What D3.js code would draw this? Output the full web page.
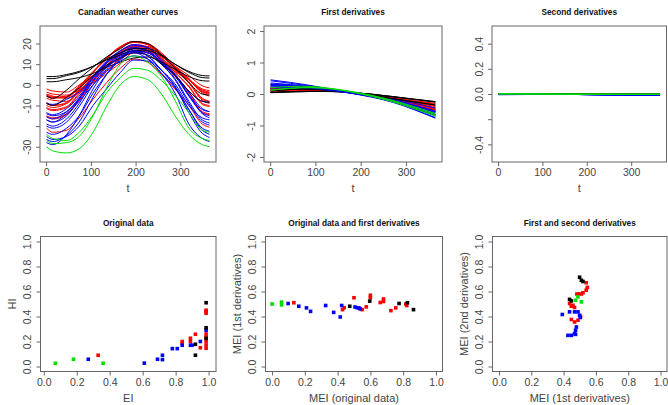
<!DOCTYPE html>
<html>
<head>
<meta charset="utf-8">
<title>Canadian weather depth measures</title>
<script src="https://d3js.org/d3.v7.min.js"></script>
<style>
    body { margin: 0; background: #fff; }
    text { font-family: "Liberation Sans", Arial, sans-serif; }
    .title { font-weight: bold; font-size: 8.3px; fill: #111; }
    .tick text { font-size: 10.5px; fill: #444; }
    .tick line { stroke: #666; }
    .axlab { font-size: 11px; fill: #444; }
    .box { fill: none; stroke: #666; stroke-width: 1px; }
</style>
</head>
<body>
<svg id="chart" width="668" height="405"></svg>
<script>
// station order of the Canadian weather data set, with region of each
const stations = ["St. Johns", "Halifax", "Sydney", "Yarmouth", "Charlottvl", "Fredericton",
    "Scheffervll", "Arvida", "Bagottville", "Quebec", "Sherbrooke", "Montreal", "Ottawa",
    "Toronto", "London", "Thunder Bay", "Winnipeg", "The Pas", "Churchill", "Regina",
    "Pr. Albert", "Uranium Cty", "Edmonton", "Calgary", "Kamloops", "Vancouver", "Victoria",
    "Pr. George", "Pr. Rupert", "Whitehorse", "Dawson", "Yellowknife", "Iqaluit", "Inuvik", "Resolute"];
const regions = ["Atlantic", "Atlantic", "Atlantic", "Atlantic", "Atlantic", "Atlantic",
    "Atlantic", "Atlantic", "Atlantic", "Atlantic", "Atlantic", "Atlantic", "Atlantic",
    "Atlantic", "Atlantic", "Continental", "Continental", "Continental", "Continental", "Continental",
    "Continental", "Continental", "Continental", "Continental", "Pacific", "Pacific", "Pacific",
    "Pacific", "Pacific", "Continental", "Continental", "Continental", "Arctic", "Arctic", "Arctic"];
const regionColors = { Atlantic: "#ff0000", Continental: "#0000ff", Pacific: "#000000", Arctic: "#00e000" };

// temperature curves (deg C) read at these days
const tempDays = [1, 15, 46, 74, 105, 135, 166, 196, 227, 258, 288, 319, 349, 365];
const temps = [
    [-3.5, -4.5, -5, -2.5, 1, 5.5, 10.5, 15.5, 15.5, 11.5, 6.5, 2.5, -2, -2.8],
    [-5, -6, -6, -1.5, 4, 9.5, 14.5, 18.5, 18.5, 14, 8.5, 3, -3, -4],
    [-4.5, -5.5, -6.5, -3, 1.5, 7, 12.5, 17.5, 17.5, 13, 7.5, 2.5, -2.5, -3.5],
    [-2, -3, -3.5, 0, 4.5, 9, 12.5, 16, 16.5, 13.5, 9, 4.5, -0.5, -1.5],
    [-6.5, -7.5, -8, -3, 2.5, 9, 15, 19, 18.5, 14, 8, 2.5, -4, -5.5],
    [-8.5, -10, -9, -3, 4, 11, 16.5, 19.5, 18.5, 13, 7, 1, -7, -8],
    [-21, -23, -22, -16, -7, 1, 8, 12.5, 11, 5, -2, -10, -19, -20.5],
    [-15, -16, -14, -7, 2, 9.5, 15.5, 18, 16.5, 11, 4.5, -3.5, -13, -14],
    [-15.5, -16.5, -14.5, -7.5, 1.5, 9, 15, 17.5, 16, 10.5, 4, -4, -13.5, -14.5],
    [-11.5, -12.5, -11, -4.5, 3, 10.5, 16, 19, 17.5, 12.5, 6, -1, -9.5, -10.5],
    [-11, -12, -10.5, -4, 3.5, 10.5, 15.5, 18.5, 17, 12, 6, -0.5, -9, -10],
    [-9, -10, -8.5, -2, 6, 13, 18.5, 21, 19.5, 14.5, 8, 1.5, -6.5, -8],
    [-10, -11, -9, -2.5, 6, 13, 18.5, 21, 19.5, 14.5, 8, 1, -7.5, -9],
    [-5, -6, -5.5, -0.5, 6.5, 13, 18, 21, 20, 15.5, 9, 3, -3, -4],
    [-5.5, -6.5, -6, -1, 6, 12.5, 18, 20.5, 19.5, 15, 8.5, 2.5, -3.5, -4.5],
    [-14, -15, -13, -6.5, 2, 8.5, 13.5, 17.5, 16.5, 11, 5, -3.5, -11.5, -13],
    [-17, -18, -15, -7, 3.5, 11, 16.5, 19.5, 18, 12, 5, -5, -14, -16],
    [-20, -21, -18, -10.5, 0, 8.5, 15, 18, 16.5, 10, 2.5, -9, -18, -19.5],
    [-25, -26.5, -25, -20, -10, -2, 6, 12, 11.5, 5.5, -1.5, -12, -22, -24],
    [-15.5, -16.5, -13, -6.5, 4, 11.5, 16.5, 19, 18, 11.5, 4.5, -5.5, -13.5, -15],
    [-19, -20, -16.5, -9, 2, 10.5, 15.5, 18, 16.5, 10, 3, -8, -17, -18.5],
    [-23, -24, -21, -15, -4, 5, 12, 16, 14, 7, -0.5, -12, -21, -22.5],
    [-13.5, -14.5, -11.5, -5.5, 3.5, 10.5, 14.5, 16.5, 15.5, 10.5, 4.5, -5, -12, -13],
    [-9, -9.5, -7, -3.5, 3.5, 9, 13, 16.5, 15.5, 10.5, 5, -3, -8, -8.5],
    [-5.5, -6.5, -2.5, 3, 8.5, 13.5, 17.5, 21, 20, 14.5, 8, 1, -4.5, -5],
    [3, 3, 4.5, 6, 9, 12.5, 15.5, 17.5, 17.5, 14.5, 10, 6, 3.5, 3.3],
    [4, 4, 5, 6.5, 9, 12, 14.5, 16.5, 16.5, 14, 10, 6.5, 4.5, 4.3],
    [-9, -10, -6, -1.5, 4.5, 9.5, 13, 15.5, 14.5, 10, 4.5, -3, -8, -8.5],
    [1.5, 1.5, 2.5, 3.5, 5.5, 8.5, 11, 13, 13.5, 11, 7.5, 4, 2, 1.8],
    [-17, -18, -14, -8, 0, 6.5, 11.5, 14, 12.5, 7, 0.5, -10, -16, -17],
    [-28, -29, -24, -15, -2, 7.5, 14, 15.5, 12.5, 5.5, -4, -19, -26, -27.5],
    [-26.5, -27.5, -24.5, -18, -6, 5, 13, 16.5, 14, 7, -1, -13.5, -23.5, -25.5],
    [-24, -26, -27, -23, -14.5, -4, 3.5, 8, 7, 2, -5, -13.5, -22, -23],
    [-27, -28.5, -28, -25, -15, -1.5, 10, 14, 11, 4, -7.5, -21, -26, -27],
    [-30, -32, -33, -31, -23, -10.5, 0, 4, 2.5, -4.5, -15, -24, -29, -30]
];

// first derivatives read at these days
const d1Days = [1, 90, 180, 270, 365];
const firstDeriv = [
    [0.05, 0.12, 0.06, -0.12, -0.32], [0.10, 0.15, 0.05, -0.14, -0.40],
    [0.08, 0.14, 0.05, -0.14, -0.38], [0.05, 0.11, 0.05, -0.11, -0.30],
    [0.12, 0.17, 0.05, -0.16, -0.45], [0.17, 0.19, 0.04, -0.18, -0.52],
    [0.22, 0.20, 0.06, -0.20, -0.55], [0.20, 0.20, 0.04, -0.19, -0.55],
    [0.19, 0.20, 0.04, -0.19, -0.54], [0.17, 0.19, 0.04, -0.18, -0.50],
    [0.16, 0.18, 0.04, -0.17, -0.48], [0.17, 0.19, 0.03, -0.17, -0.50],
    [0.18, 0.19, 0.03, -0.18, -0.52], [0.12, 0.17, 0.04, -0.15, -0.44],
    [0.12, 0.17, 0.04, -0.15, -0.45], [0.20, 0.19, 0.05, -0.18, -0.55],
    [0.28, 0.22, 0.03, -0.22, -0.65], [0.32, 0.23, 0.03, -0.23, -0.68],
    [0.30, 0.20, 0.06, -0.21, -0.65], [0.25, 0.21, 0.03, -0.20, -0.60],
    [0.30, 0.22, 0.03, -0.22, -0.65], [0.35, 0.23, 0.03, -0.23, -0.70],
    [0.22, 0.19, 0.03, -0.18, -0.55], [0.15, 0.16, 0.03, -0.15, -0.45],
    [0.10, 0.16, 0.04, -0.15, -0.35], [0.05, 0.09, 0.05, -0.09, -0.25],
    [0.05, 0.08, 0.05, -0.08, -0.24], [0.10, 0.15, 0.04, -0.14, -0.35],
    [0.04, 0.08, 0.05, -0.08, -0.26], [0.28, 0.19, 0.02, -0.19, -0.58],
    [0.45, 0.27, 0.02, -0.26, -0.77], [0.42, 0.25, 0.04, -0.25, -0.75],
    [0.12, 0.20, 0.07, -0.20, -0.62], [0.20, 0.24, 0.06, -0.25, -0.70],
    [0.12, 0.21, 0.08, -0.22, -0.66]
];

// second derivatives read at these days
const d2Days = [1, 180, 365];
const secondDeriv = [
    [-0.002, -0.003, -0.004], [-0.002, -0.003, -0.004], [-0.002, -0.003, -0.004],
    [-0.002, -0.003, -0.004], [-0.002, -0.003, -0.004], [-0.002, -0.003, -0.004],
    [-0.002, -0.003, -0.004], [-0.002, -0.003, -0.004], [-0.002, -0.003, -0.004],
    [-0.002, -0.003, -0.004], [-0.002, -0.003, -0.004], [-0.002, -0.003, -0.004],
    [-0.002, -0.003, -0.004], [-0.002, -0.003, -0.004], [-0.002, -0.003, -0.004],
    [-0.004, -0.004, -0.009], [-0.004, -0.004, -0.009], [-0.004, -0.004, -0.010],
    [-0.004, -0.004, -0.009], [-0.004, -0.004, -0.009], [-0.004, -0.004, -0.010],
    [-0.004, -0.004, -0.010], [-0.004, -0.004, -0.009], [-0.003, -0.004, -0.008],
    [-0.001, -0.002, -0.002], [-0.001, -0.002, -0.002], [-0.001, -0.002, -0.002],
    [-0.001, -0.002, -0.002], [-0.001, -0.002, -0.002], [-0.004, -0.004, -0.010],
    [-0.005, -0.004, -0.011], [-0.005, -0.004, -0.011], [0.001, -0.001, -0.002],
    [0.001, -0.001, -0.002], [0.001, -0.001, -0.002]
];

// scatter panels: [x, y, region]
const eiHi = [
    [0.33, 0.09, "Atlantic"], [0.84, 0.2, "Atlantic"], [0.84, 0.185, "Atlantic"], [0.89, 0.226, "Atlantic"],
    [0.89, 0.2, "Atlantic"], [0.92, 0.258, "Atlantic"], [0.95, 0.15, "Atlantic"], [0.985, 0.45, "Atlantic"],
    [0.985, 0.426, "Atlantic"], [0.985, 0.44, "Atlantic"], [0.985, 0.26, "Atlantic"], [0.985, 0.235, "Atlantic"],
    [0.985, 0.2, "Atlantic"], [0.985, 0.172, "Atlantic"], [0.985, 0.146, "Atlantic"],
    [0.27, 0.058, "Continental"], [0.61, 0.027, "Continental"], [0.69, 0.058, "Continental"],
    [0.72, 0.055, "Continental"], [0.72, 0.09, "Continental"], [0.78, 0.143, "Continental"],
    [0.81, 0.143, "Continental"], [0.84, 0.17, "Continental"], [0.89, 0.17, "Continental"],
    [0.9, 0.17, "Continental"], [0.95, 0.2, "Continental"], [0.985, 0.29, "Continental"],
    [0.92, 0.178, "Pacific"], [0.92, 0.09, "Pacific"], [0.985, 0.51, "Pacific"], [0.985, 0.31, "Pacific"],
    [0.985, 0.225, "Pacific"],
    [0.07, 0.026, "Arctic"], [0.18, 0.058, "Arctic"], [0.36, 0.026, "Arctic"]
];
const meiOrigFirst = [
    [0.133, 0.51, "Atlantic"], [0.43, 0.455, "Atlantic"], [0.44, 0.47, "Atlantic"], [0.50, 0.55, "Atlantic"],
    [0.55, 0.455, "Atlantic"], [0.575, 0.477, "Atlantic"], [0.6, 0.57, "Atlantic"], [0.6, 0.55, "Atlantic"],
    [0.66, 0.512, "Atlantic"], [0.68, 0.54, "Atlantic"], [0.68, 0.52, "Atlantic"], [0.725, 0.447, "Atlantic"],
    [0.755, 0.469, "Atlantic"], [0.816, 0.50, "Atlantic"], [0.822, 0.488, "Atlantic"],
    [0.098, 0.504, "Continental"], [0.163, 0.482, "Continental"], [0.21, 0.469, "Continental"],
    [0.235, 0.441, "Continental"], [0.327, 0.488, "Continental"], [0.376, 0.433, "Continental"],
    [0.416, 0.396, "Continental"], [0.425, 0.488, "Continental"], [0.506, 0.476, "Continental"],
    [0.52, 0.47, "Continental"], [0.53, 0.469, "Continental"], [0.537, 0.461, "Continental"],
    [0.474, 0.482, "Pacific"], [0.596, 0.523, "Pacific"], [0.775, 0.504, "Pacific"], [0.826, 0.51, "Pacific"],
    [0.863, 0.455, "Pacific"],
    [0.0, 0.50, "Arctic"], [0.058, 0.515, "Arctic"], [0.058, 0.493, "Arctic"]
];
const meiFirstSecond = [
    [0.54, 0.67, "Atlantic"], [0.547, 0.633, "Atlantic"], [0.54, 0.61, "Atlantic"], [0.52, 0.59, "Atlantic"],
    [0.51, 0.58, "Atlantic"], [0.482, 0.58, "Atlantic"], [0.495, 0.58, "Atlantic"], [0.437, 0.504, "Atlantic"],
    [0.448, 0.482, "Atlantic"], [0.458, 0.49, "Atlantic"], [0.468, 0.472, "Atlantic"], [0.448, 0.376, "Atlantic"],
    [0.468, 0.356, "Atlantic"], [0.489, 0.37, "Atlantic"], [0.505, 0.40, "Atlantic"],
    [0.437, 0.437, "Continental"], [0.468, 0.437, "Continental"], [0.489, 0.437, "Continental"],
    [0.392, 0.416, "Continental"], [0.499, 0.41, "Continental"], [0.503, 0.392, "Continental"],
    [0.479, 0.316, "Continental"], [0.474, 0.29, "Continental"], [0.468, 0.263, "Continental"],
    [0.474, 0.257, "Continental"], [0.427, 0.249, "Continental"], [0.448, 0.249, "Continental"],
    [0.499, 0.714, "Pacific"], [0.51, 0.69, "Pacific"], [0.52, 0.68, "Pacific"], [0.437, 0.537, "Pacific"],
    [0.448, 0.525, "Pacific"],
    [0.489, 0.557, "Arctic"], [0.474, 0.53, "Arctic"], [0.51, 0.517, "Arctic"]
];

const svg = d3.select("#chart");
let clipCount = 0;

function makePanel(p) {
    const x = d3.scaleLinear().domain(p.xDomain).range([p.x0, p.x1]);
    const y = d3.scaleLinear().domain(p.yDomain).range([p.y1, p.y0]);
    const g = svg.append("g");
    const clipId = "clip" + (clipCount++);
    g.append("clipPath").attr("id", clipId).append("rect")
        .attr("x", p.x0).attr("y", p.y0)
        .attr("width", p.x1 - p.x0).attr("height", p.y1 - p.y0);
    const plot = g.append("g").attr("clip-path", `url(#${clipId})`);

    const xa = g.append("g")
        .attr("transform", `translate(0,${p.y1})`)
        .call(d3.axisBottom(x).tickValues(p.xTicks).tickFormat(p.xFmt)
            .tickSizeInner(4).tickSizeOuter(0).tickPadding(3));
    xa.select(".domain").remove();

    const ya = g.append("g")
        .attr("transform", `translate(${p.x0},0)`)
        .call(d3.axisLeft(y).tickValues(p.yTicks).tickFormat(p.yFmt)
            .tickSizeInner(4).tickSizeOuter(0));
    ya.select(".domain").remove();
    // R style: y tick labels parallel to the axis
    ya.selectAll(".tick text")
        .attr("x", null).attr("dy", null)
        .attr("text-anchor", "middle")
        .attr("transform", "translate(-9.5,0) rotate(-90)");

    g.append("rect").attr("class", "box")
        .attr("x", p.x0).attr("y", p.y0)
        .attr("width", p.x1 - p.x0).attr("height", p.y1 - p.y0);

    g.append("text").attr("class", "title")
        .attr("x", (p.x0 + p.x1) / 2).attr("y", p.y0 - 11)
        .attr("text-anchor", "middle").text(p.title);
    g.append("text").attr("class", "axlab")
        .attr("x", (p.x0 + p.x1) / 2).attr("y", p.y1 + 30)
        .attr("text-anchor", "middle").text(p.xLabel);
    if (p.yLabel) {
        g.append("text").attr("class", "axlab")
            .attr("transform", `translate(${p.x0 - 25},${(p.y0 + p.y1) / 2}) rotate(-90)`)
            .attr("text-anchor", "middle").text(p.yLabel);
    }
    return { x, y, plot };
}

const intFmt = d => String(d);
const decFmt = d => d.toFixed(1);
const unitTicks = [0, 0.2, 0.4, 0.6, 0.8, 1.0];
const dayTicks = [0, 100, 200, 300];

function drawCurves(panel, days, rows, curve) {
    const line = d3.line()
        .x((d, i) => panel.x(days[i]))
        .y(d => panel.y(d))
        .curve(curve);
    panel.plot.selectAll("path.curve")
        .data(rows)
        .join("path")
        .attr("class", "curve")
        .attr("fill", "none")
        .attr("stroke", (d, i) => regionColors[regions[i]])
        .attr("stroke-width", 1)
        .attr("d", line);
}

function drawPoints(panel, pts) {
    const s = 3.6;
    panel.plot.selectAll("rect.pt")
        .data(pts)
        .join("rect")
        .attr("class", "pt")
        .attr("x", d => panel.x(d[0]) - s / 2)
        .attr("y", d => panel.y(d[1]) - s / 2)
        .attr("width", s).attr("height", s)
        .attr("fill", d => regionColors[d[2]]);
}

// top row
const p1 = makePanel({
    x0: 40, x1: 216, y0: 26, y1: 162,
    xDomain: [-13.6, 379.6], yDomain: [-37.4, 28.5],
    xTicks: dayTicks, yTicks: [-30, -20, -10, 0, 10, 20],
    xFmt: intFmt, yFmt: d => d === -20 ? "" : String(d),
    title: "Canadian weather curves", xLabel: "t"
});
drawCurves(p1, tempDays, temps, d3.curveMonotoneX);

const p2 = makePanel({
    x0: 264, x1: 442, y0: 26, y1: 162,
    xDomain: [-13.6, 379.6], yDomain: [-2.16, 2.16],
    xTicks: dayTicks, yTicks: [-2, -1, 0, 1, 2],
    xFmt: intFmt, yFmt: intFmt,
    title: "First derivatives", xLabel: "t"
});
drawCurves(p2, d1Days, firstDeriv, d3.curveNatural);

const p3 = makePanel({
    x0: 492, x1: 666.5, y0: 26, y1: 162,
    xDomain: [-13.6, 379.6], yDomain: [-0.54, 0.54],
    xTicks: dayTicks, yTicks: [-0.4, -0.2, 0, 0.2, 0.4],
    xFmt: intFmt, yFmt: d => Math.abs(d + 0.2) < 1e-9 ? "" : d.toFixed(1),
    title: "Second derivatives", xLabel: "t"
});
drawCurves(p3, d2Days, secondDeriv, d3.curveNatural);

// bottom row
const p4 = makePanel({
    x0: 40.5, x1: 216, y0: 236.5, y1: 371.5,
    xDomain: [-0.02, 1.045], yDomain: [-0.04, 1.04],
    xTicks: unitTicks, yTicks: unitTicks, xFmt: decFmt, yFmt: decFmt,
    title: "Original data", xLabel: "EI", yLabel: "HI"
});
drawPoints(p4, eiHi);

const p5 = makePanel({
    x0: 265.5, x1: 442.5, y0: 236.5, y1: 371.5,
    xDomain: [-0.04, 1.04], yDomain: [-0.04, 1.04],
    xTicks: unitTicks, yTicks: unitTicks, xFmt: decFmt, yFmt: decFmt,
    title: "Original data and first derivatives", xLabel: "MEI (original data)",
    yLabel: "MEI (1st derivatives)"
});
drawPoints(p5, meiOrigFirst);

const p6 = makePanel({
    x0: 492.5, x1: 667, y0: 236.5, y1: 371.5,
    xDomain: [-0.04, 1.04], yDomain: [-0.04, 1.04],
    xTicks: unitTicks, yTicks: unitTicks, xFmt: decFmt, yFmt: decFmt,
    title: "First and second derivatives", xLabel: "MEI (1st derivatives)",
    yLabel: "MEI (2nd derivatives)"
});
drawPoints(p6, meiFirstSecond);
</script>
</body>
</html>
